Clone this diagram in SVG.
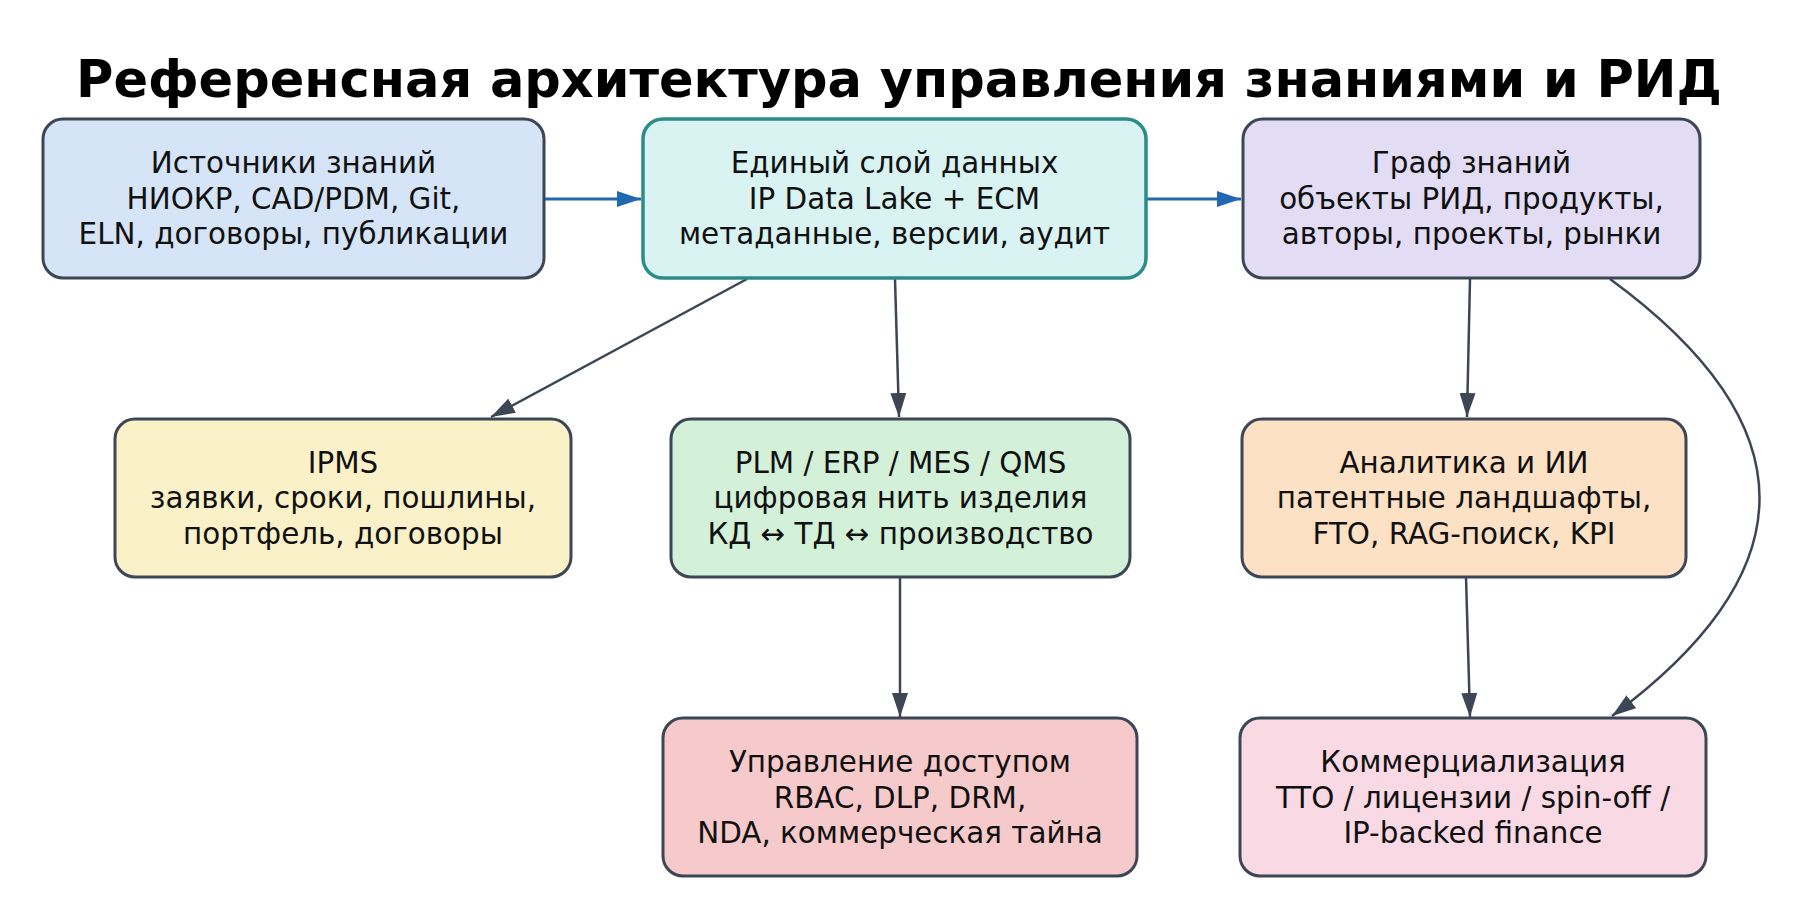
<svg xmlns="http://www.w3.org/2000/svg" width="1800" height="919" viewBox="0 0 1800 919">
<defs>
<style>
.box{stroke:#3c4655;stroke-width:3}
.t{font-family:"DejaVu Sans",sans-serif;font-size:29.4px;fill:#111;text-anchor:middle}
.title{font-family:"DejaVu Sans",sans-serif;font-size:51px;font-weight:bold;fill:#000;text-anchor:middle}
.c{fill:none;stroke:#3c4655;stroke-width:2.5}
.cb{fill:none;stroke:#2268b0;stroke-width:3}
</style>
<marker id="ad" viewBox="0 0 24 16" refX="24" refY="8" markerWidth="24" markerHeight="16" markerUnits="userSpaceOnUse" orient="auto"><path d="M0,0 L24,8 L0,16 z" fill="#3c4655"/></marker>
<marker id="ab" viewBox="0 0 24 16" refX="24" refY="8" markerWidth="24" markerHeight="16" markerUnits="userSpaceOnUse" orient="auto"><path d="M0,0 L24,8 L0,16 z" fill="#2268b0"/></marker>
</defs>
<rect width="1800" height="919" fill="#fff"/>
<text class="title" x="899" y="97">Референсная архитектура управления знаниями и РИД</text>
<g id="connectors">
<path class="cb" d="M544,199 L641,199" marker-end="url(#ab)"/>
<path class="cb" d="M1146,199 L1241,199" marker-end="url(#ab)"/>
<path class="c" d="M747,279 L491,417" marker-end="url(#ad)"/>
<path class="c" d="M895,279 L899,417" marker-end="url(#ad)"/>
<path class="c" d="M900,577 L900,717" marker-end="url(#ad)"/>
<path class="c" d="M1470,279 L1467,417" marker-end="url(#ad)"/>
<path class="c" d="M1466,577 L1470,717" marker-end="url(#ad)"/>
<path class="c" d="M1610,279 Q1908,497 1612,716" marker-end="url(#ad)"/>
</g>
<g id="sources">
<rect class="box" x="43" y="119" width="501" height="159" rx="20" fill="#d5e4f6"/>
<text class="t" x="293.5" y="173">Источники знаний</text>
<text class="t" x="293.5" y="208.5">НИОКР, CAD/PDM, Git,</text>
<text class="t" x="293.5" y="244">ELN, договоры, публикации</text>
</g>
<g id="datalayer">
<rect x="643" y="119" width="503" height="159" rx="20" fill="#d8f3f1" stroke="#2c8c88" stroke-width="3.5"/>
<text class="t" x="894.5" y="173">Единый слой данных</text>
<text class="t" x="894.5" y="208.5">IP Data Lake + ECM</text>
<text class="t" x="894.5" y="244">метаданные, версии, аудит</text>
</g>
<g id="graph">
<rect class="box" x="1243" y="119" width="457" height="159" rx="20" fill="#e2ddf4"/>
<text class="t" x="1471.5" y="173">Граф знаний</text>
<text class="t" x="1471.5" y="208.5">объекты РИД, продукты,</text>
<text class="t" x="1471.5" y="244">авторы, проекты, рынки</text>
</g>
<g id="ipms">
<rect class="box" x="115" y="419" width="456" height="158" rx="20" fill="#fbf1c9"/>
<text class="t" x="343" y="472.5">IPMS</text>
<text class="t" x="343" y="508">заявки, сроки, пошлины,</text>
<text class="t" x="343" y="543.5">портфель, договоры</text>
</g>
<g id="plm">
<rect class="box" x="671" y="419" width="459" height="158" rx="20" fill="#d3f0d9"/>
<text class="t" x="900.5" y="472.5">PLM / ERP / MES / QMS</text>
<text class="t" x="900.5" y="508">цифровая нить изделия</text>
<text class="t" x="900.5" y="543.5">КД ↔ ТД ↔ производство</text>
</g>
<g id="analytics">
<rect class="box" x="1242" y="419" width="444" height="158" rx="20" fill="#fde1c4"/>
<text class="t" x="1464" y="472.5">Аналитика и ИИ</text>
<text class="t" x="1464" y="508">патентные ландшафты,</text>
<text class="t" x="1464" y="543.5">FTO, RAG-поиск, KPI</text>
</g>
<g id="access">
<rect class="box" x="663" y="718" width="474" height="158" rx="20" fill="#f6c9cb"/>
<text class="t" x="900" y="772">Управление доступом</text>
<text class="t" x="900" y="807.5">RBAC, DLP, DRM,</text>
<text class="t" x="900" y="843">NDA, коммерческая тайна</text>
</g>
<g id="commercial">
<rect class="box" x="1240" y="718" width="466" height="158" rx="20" fill="#f9d9e4"/>
<text class="t" x="1473" y="772">Коммерциализация</text>
<text class="t" x="1473" y="807.5">TTO / лицензии / spin-off /</text>
<text class="t" x="1473" y="843">IP-backed finance</text>
</g>
</svg>
